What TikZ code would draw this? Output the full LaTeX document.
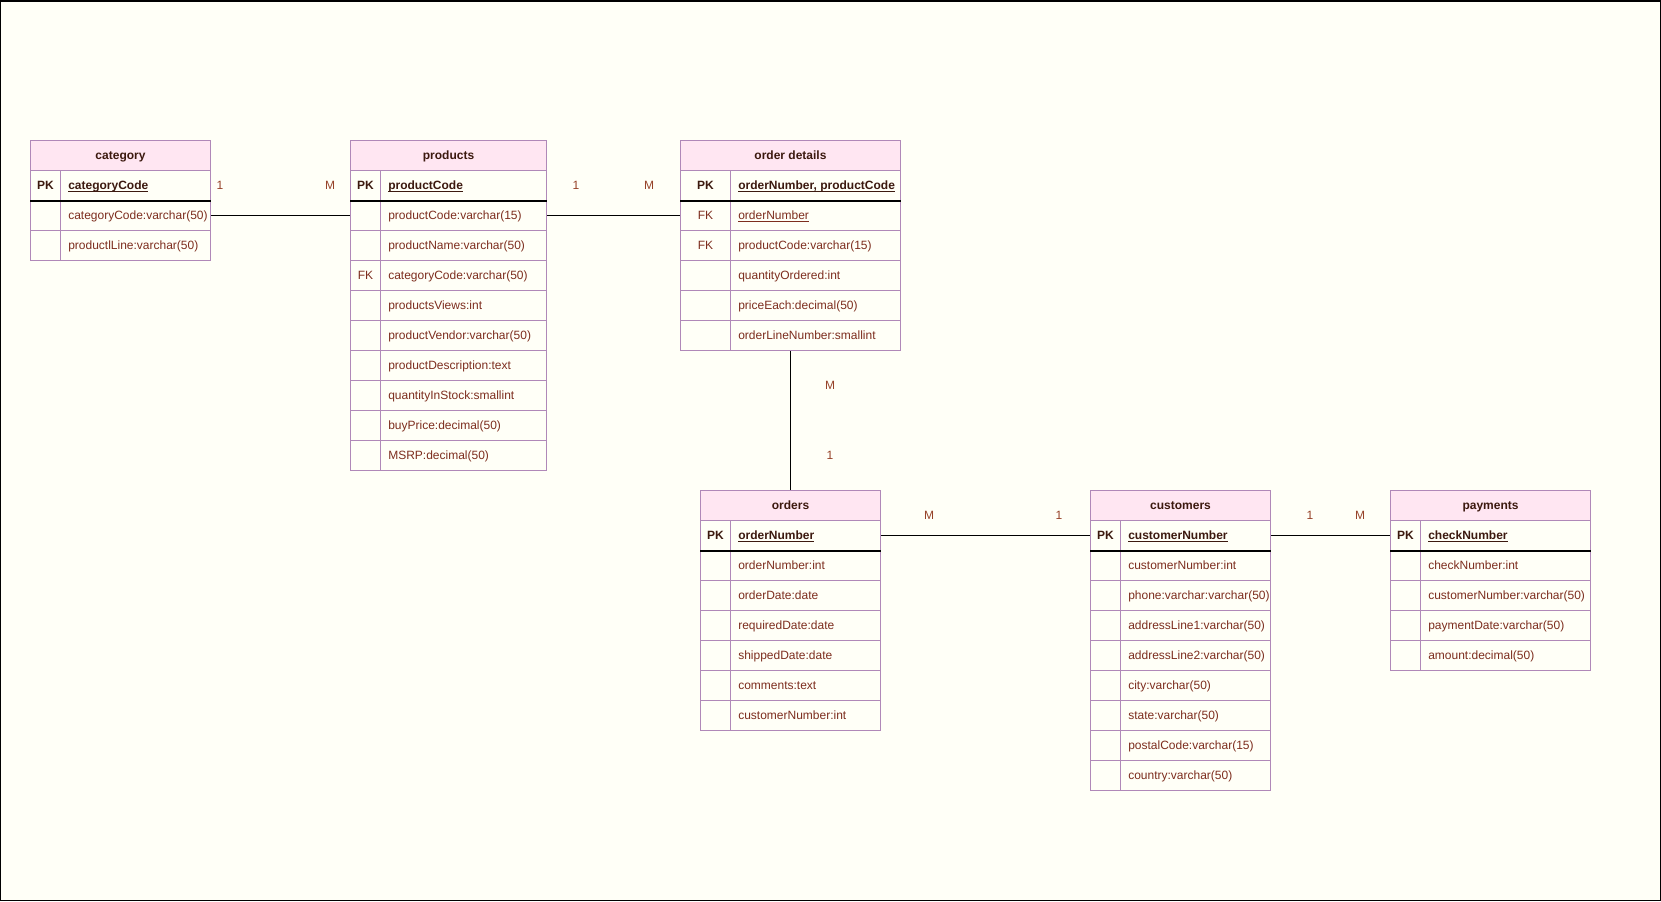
\documentclass[tikz,border=0pt]{standalone}
\usepackage{fontspec}
\setmainfont{Liberation Sans}
\newdimen\pxu \pxu=0.75pt
\definecolor{bcol}{RGB}{176,136,184}
\definecolor{hfill}{RGB}{255,230,242}
\definecolor{bgcol}{RGB}{255,255,247}
\definecolor{rowtxt}{RGB}{125,45,30}
\definecolor{hdrtxt}{RGB}{60,25,15}
\definecolor{lbltxt}{RGB}{150,65,40}
\newcommand\fsz{\fontsize{9pt}{11pt}\selectfont}
\newcommand\ulx[1]{\setbox0\hbox{#1}\rlap{\rule[-2.2\pxu]{\wd0}{1\pxu}}\box0}
\newcommand\pk{{\color{hdrtxt}\bfseries PK}}
\newcommand\fk{FK}
\newcommand\pkn[1]{{\color{hdrtxt}\ulx{\bfseries #1}}}
\newcommand\erhead[5]{\node[hdrcell, minimum width=#4\pxu] (#1) at (#2,#3) {#5};}
\newcommand\errow[7]{%
  \node[keycell, minimum width=#4\pxu] (#1k) at (#2,#3) {#6};
  \node[fieldcell, minimum width=#5\pxu] (#1) at ({#2+#4},#3) {};
  \node[celltext] (#1t) at ([xshift=8\pxu]#1.west) {#7};}
\tikzset{
  cellbase/.style={draw=bcol, line width=1\pxu, anchor=north west, inner sep=0pt,
    minimum height=30\pxu, text height=8.6\pxu, text depth=0pt, font=\fsz},
  hdrcell/.style={cellbase, fill=hfill, font=\fsz\bfseries, text=hdrtxt},
  keycell/.style={cellbase, text=rowtxt},
  fieldcell/.style={cellbase},
  celltext/.style={anchor=west, inner sep=0pt, text height=8.6\pxu, text depth=0pt,
    font=\fsz, text=rowtxt},
  lbl/.style={inner sep=0pt, text height=8.6\pxu, text depth=0pt, font=\fsz, text=lbltxt},
  conn/.style={draw=black, line width=1.2\pxu},
  pkline/.style={draw=black, line width=1.2\pxu},
}
\begin{document}
\begin{tikzpicture}[x=0.75pt, y=-0.75pt]
\useasboundingbox (0,0) rectangle (1661,901);
\fill[bgcol] (0,0) rectangle (1661,901);
\draw[black, line width=1.5\pxu] (0.75,0.75) rectangle (1660.25,900.25);

% category
\erhead{cat}{30}{140}{180}{category}
\errow{cat0}{30}{170}{30}{150}{\pk}{\pkn{categoryCode}}
\errow{cat1}{30}{200}{30}{150}{}{categoryCode:varchar(50)}
\errow{cat2}{30}{230}{30}{150}{}{productlLine:varchar(50)}
\draw[pkline] (cat0k.south west) -- (cat0.south east);

% products
\erhead{prod}{350}{140}{196}{products}
\errow{prod0}{350}{170}{30}{166}{\pk}{\pkn{productCode}}
\errow{prod1}{350}{200}{30}{166}{}{productCode:varchar(15)}
\errow{prod2}{350}{230}{30}{166}{}{productName:varchar(50)}
\errow{prod3}{350}{260}{30}{166}{\fk}{categoryCode:varchar(50)}
\errow{prod4}{350}{290}{30}{166}{}{productsViews:int}
\errow{prod5}{350}{320}{30}{166}{}{productVendor:varchar(50)}
\errow{prod6}{350}{350}{30}{166}{}{productDescription:text}
\errow{prod7}{350}{380}{30}{166}{}{quantityInStock:smallint}
\errow{prod8}{350}{410}{30}{166}{}{buyPrice:decimal(50)}
\errow{prod9}{350}{440}{30}{166}{}{MSRP:decimal(50)}
\draw[pkline] (prod0k.south west) -- (prod0.south east);

% order details
\erhead{od}{680}{140}{220}{order details}
\errow{od0}{680}{170}{50}{170}{\pk}{\pkn{orderNumber, productCode}}
\errow{od1}{680}{200}{50}{170}{\fk}{\ulx{orderNumber}}
\errow{od2}{680}{230}{50}{170}{\fk}{productCode:varchar(15)}
\errow{od3}{680}{260}{50}{170}{}{quantityOrdered:int}
\errow{od4}{680}{290}{50}{170}{}{priceEach:decimal(50)}
\errow{od5}{680}{320}{50}{170}{}{orderLineNumber:smallint}
\draw[pkline] (od0k.south west) -- (od0.south east);

% orders
\erhead{ord}{700}{490}{180}{orders}
\errow{ord0}{700}{520}{30}{150}{\pk}{\pkn{orderNumber}}
\errow{ord1}{700}{550}{30}{150}{}{orderNumber:int}
\errow{ord2}{700}{580}{30}{150}{}{orderDate:date}
\errow{ord3}{700}{610}{30}{150}{}{requiredDate:date}
\errow{ord4}{700}{640}{30}{150}{}{shippedDate:date}
\errow{ord5}{700}{670}{30}{150}{}{comments:text}
\errow{ord6}{700}{700}{30}{150}{}{customerNumber:int}
\draw[pkline] (ord0k.south west) -- (ord0.south east);

% customers
\erhead{cus}{1090}{490}{180}{customers}
\errow{cus0}{1090}{520}{30}{150}{\pk}{\pkn{customerNumber}}
\errow{cus1}{1090}{550}{30}{150}{}{customerNumber:int}
\errow{cus2}{1090}{580}{30}{150}{}{phone:varchar:varchar(50)}
\errow{cus3}{1090}{610}{30}{150}{}{addressLine1:varchar(50)}
\errow{cus4}{1090}{640}{30}{150}{}{addressLine2:varchar(50)}
\errow{cus5}{1090}{670}{30}{150}{}{city:varchar(50)}
\errow{cus6}{1090}{700}{30}{150}{}{state:varchar(50)}
\errow{cus7}{1090}{730}{30}{150}{}{postalCode:varchar(15)}
\errow{cus8}{1090}{760}{30}{150}{}{country:varchar(50)}
\draw[pkline] (cus0k.south west) -- (cus0.south east);

% payments
\erhead{pay}{1390}{490}{200}{payments}
\errow{pay0}{1390}{520}{30}{170}{\pk}{\pkn{checkNumber}}
\errow{pay1}{1390}{550}{30}{170}{}{checkNumber:int}
\errow{pay2}{1390}{580}{30}{170}{}{customerNumber:varchar(50)}
\errow{pay3}{1390}{610}{30}{170}{}{paymentDate:varchar(50)}
\errow{pay4}{1390}{640}{30}{170}{}{amount:decimal(50)}
\draw[pkline] (pay0k.south west) -- (pay0.south east);

% connectors
\draw[conn] (cat1.east) -- (prod1k.west);
\draw[conn] (prod1.east) -- (od1k.west);
\draw[conn] (od5.south -| od.south) -- (ord.north);
\draw[conn] (ord0.east) -- (cus0k.west);
\draw[conn] (cus0.east) -- (pay0k.west);

% cardinality labels
\node[lbl] (l1a) at (220,185) {1};
\node[lbl] (l1b) at (330,185) {M};
\node[lbl] (l2a) at (576,185) {1};
\node[lbl] (l2b) at (649,185) {M};
\node[lbl] (l3a) at (830,385) {M};
\node[lbl] (l3b) at (830,455) {1};
\node[lbl] (l4a) at (929,515) {M};
\node[lbl] (l4b) at (1059,515) {1};
\node[lbl] (l5a) at (1310,515) {1};
\node[lbl] (l5b) at (1360,515) {M};
\end{tikzpicture}
\end{document}
